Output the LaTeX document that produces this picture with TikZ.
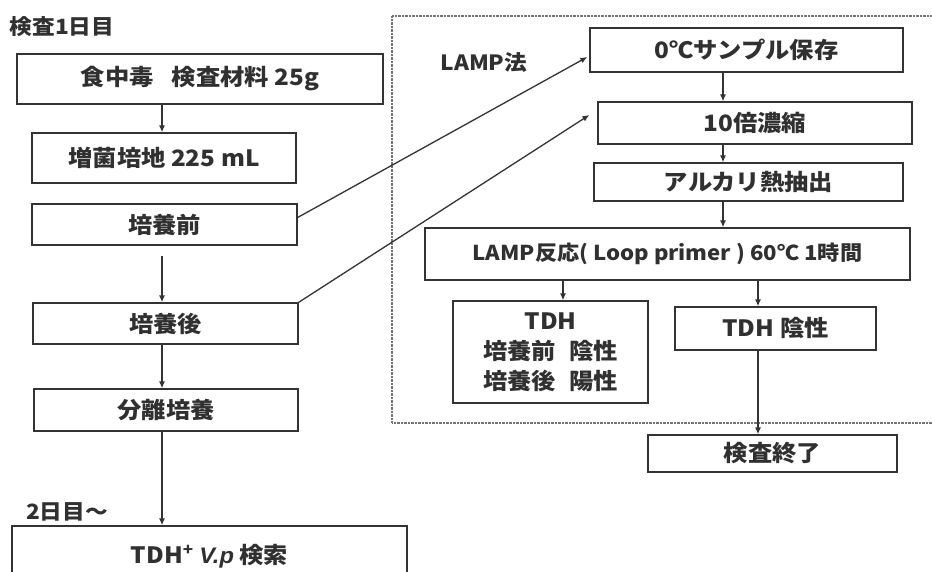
\documentclass[tikz,border=0pt]{standalone}
\usepackage{fontspec}
\setmainfont{Noto Sans CJK JP}[FakeStretch=1.08, BoldFeatures={FakeStretch=1.08}]
\newfontfamily\itf{Liberation Sans}[FakeStretch=1.05]
\usetikzlibrary{arrows.meta,calc}
\definecolor{ink}{HTML}{303030}
\definecolor{lin}{HTML}{333333}
\begin{document}
\begin{tikzpicture}[x=1pt,y=-1pt,
  box/.style={draw=lin, line width=1.3pt, inner sep=0pt, text=ink, align=center,
    font=\fontsize{22.5}{30}\selectfont\bfseries},
  lbl/.style={text=ink, inner sep=0pt, font=\fontsize{21}{24}\selectfont\bfseries},
  arr/.style={draw=lin, line width=1.3pt, -{Latex[length=7pt,width=6pt]}},
  frame/.style={draw=black!55, line width=1.2pt, dash pattern=on 0.7pt off 0.7pt}]
\useasboundingbox[fill=white] (0,0) rectangle (932,572);
% dotted frame
\draw[frame] (392,16) rectangle (945,423);
% labels
\node[lbl] (day1) at (62,27) {検査1日目};
\node[lbl] (day2) at (67,512) {2日目〜};
\node[lbl] (lamp) at (484,63) {LAMP法};
% left column
\node[box, minimum width=366pt, minimum height=50pt] (n1) at (200,79) {食中毒\hspace{0.8em}検査材料 25g};
\node[box, minimum width=264pt, minimum height=50pt] (n2) at (164,158) {増菌培地 225 mL};
\node[box, minimum width=265pt, minimum height=41pt] (n3) at (164.5,224.5) {培養前};
\node[box, minimum width=265pt, minimum height=41pt] (n4) at (165.5,323.5) {培養後};
\node[box, minimum width=264pt, minimum height=42pt] (n5) at (166,410) {分離培養};
\node[box, minimum width=395pt, minimum height=60pt] (n6) at (209.5,556) {TDH\textsuperscript{+} {\itf\itshape V.p} 検索};
% right column
\node[box, minimum width=313pt, minimum height=44pt] (r1) at (746.5,50) {0℃サンプル保存};
\node[box, minimum width=314pt, minimum height=42pt] (r2) at (755,123) {10倍濃縮};
\node[box, minimum width=309pt, minimum height=38pt] (r3) at (748.5,182) {アルカリ熱抽出};
\node[box, minimum width=485pt, minimum height=52pt, font=\fontsize{20.5}{30}\selectfont\bfseries] (r4) at (667.5,254) {LAMP反応( Loop primer ) 60℃ 1時間};
\node[box, minimum width=195pt, minimum height=102pt] (r5) at (550.5,352) {TDH\\培養前\hspace{0.6em}陰性\\培養後\hspace{0.6em}陽性};
\node[box, minimum width=201pt, minimum height=43pt] (r6) at (775.5,328.5) {TDH 陰性};
\node[box, minimum width=249pt, minimum height=37pt] (r7) at (772.5,453.5) {検査終了};
% arrow columns
\coordinate (lx) at (162,0);
\coordinate (rx) at (723,0);
\coordinate (ax) at (563,0);
\coordinate (bx) at (758,0);
% left arrows
\draw[arr] (n1.south -| lx) -- (n2.north -| lx);
\draw[arr, shorten <=10pt] (n3.south -| lx) -- (n4.north -| lx);
\draw[arr] (n4.south -| lx) -- (n5.north -| lx);
\draw[arr] (n5.south -| lx) -- (n6.north -| lx);
% right arrows
\draw[arr] (r1.south -| rx) -- (r2.north -| rx);
\draw[arr] (r2.south -| rx) -- (r3.north -| rx);
\draw[arr] (r3.south -| rx) -- (r4.north -| rx);
\draw[arr] (r4.south -| ax) -- (r5.north -| ax);
\draw[arr] (r4.south -| bx) -- (r6.north -| bx);
\draw[arr] (r6.south -| bx) -- (r7.north -| bx);
% diagonal arrows
\draw[arr] ([yshift=7pt]n3.east) -- ([xshift=-2pt,yshift=-7pt]r1.west);
\draw[arr] (n4.north east) -- ([xshift=-8pt,yshift=8pt]r2.west);
\end{tikzpicture}
\end{document}
